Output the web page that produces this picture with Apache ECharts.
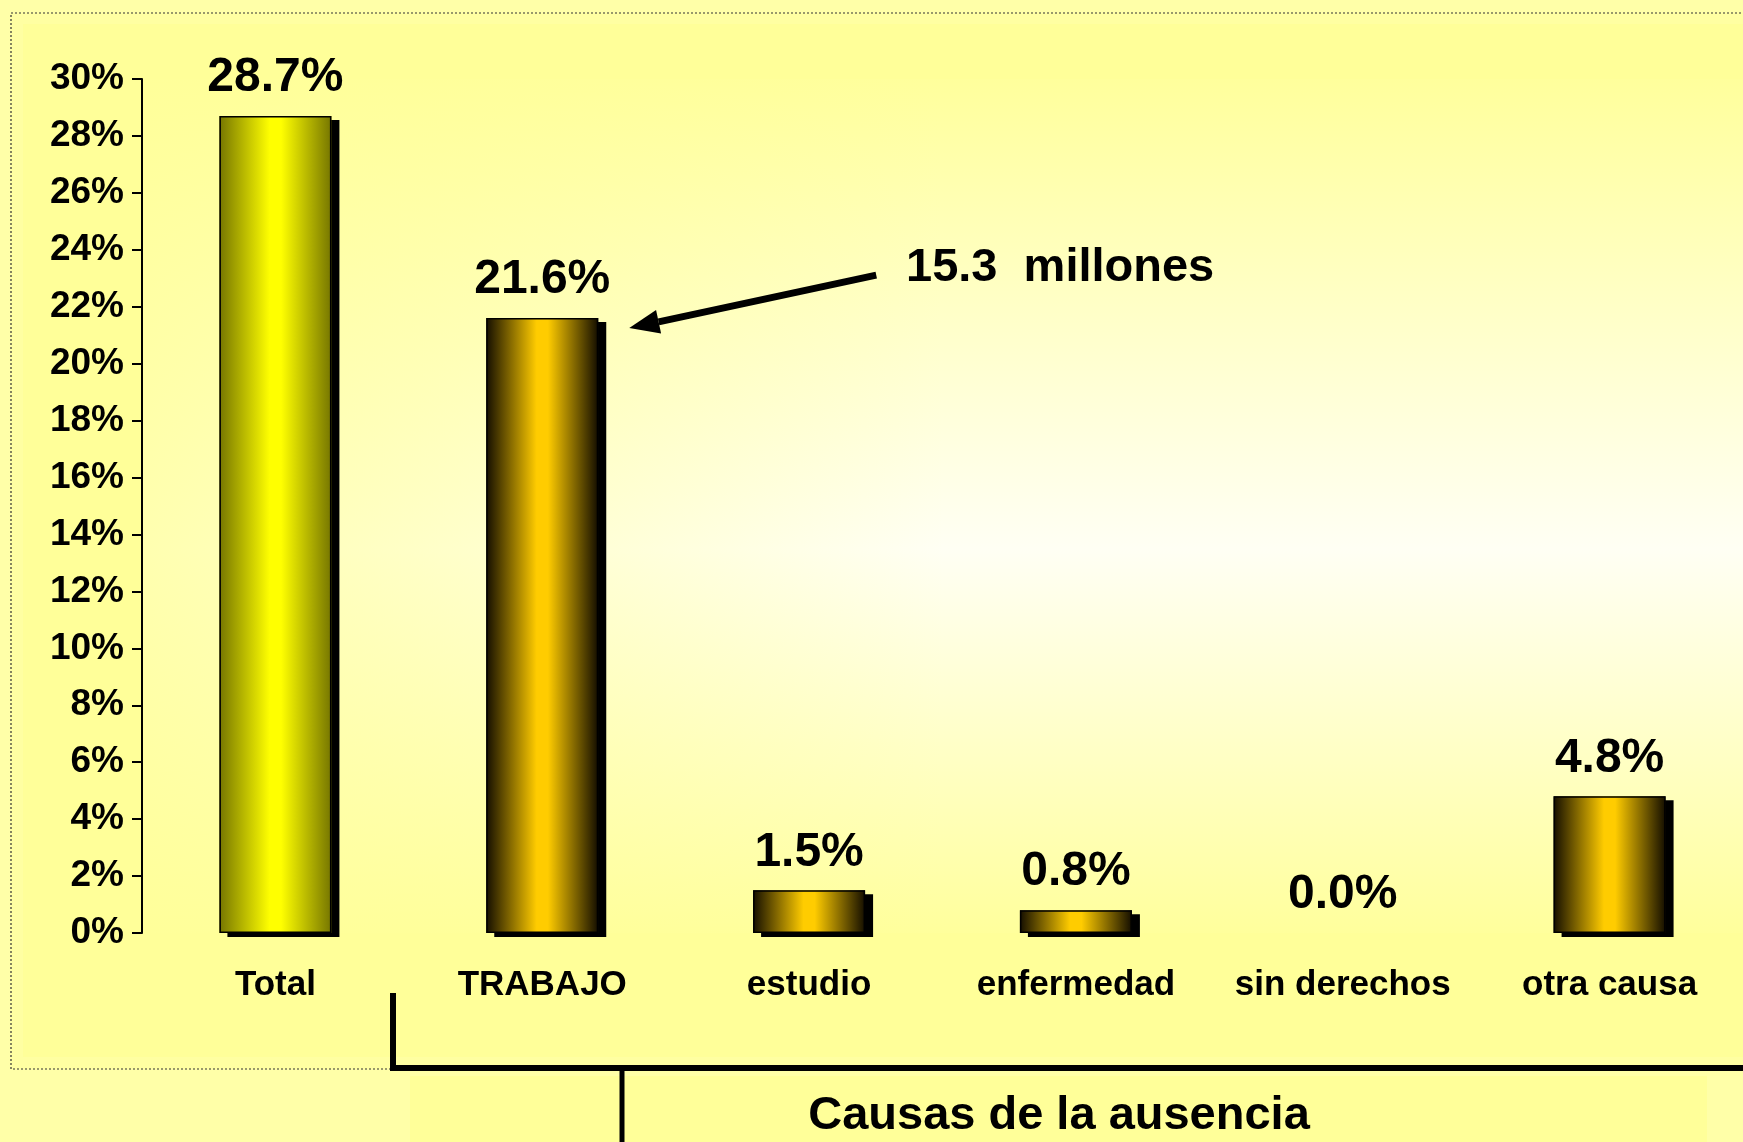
<!DOCTYPE html>
<html>
<head>
<meta charset="utf-8">
<script src="https://cdn.jsdelivr.net/npm/echarts@6/dist/echarts.min.js"></script>
<style>
  html, body { margin: 0; padding: 0; background: #ffffa8; }
  #chart { width: 1743px; height: 1142px; }
</style>
</head>
<body>
<div id="chart"></div>
<script>
var categories = ['Total', 'TRABAJO', 'estudio', 'enfermedad', 'sin derechos', 'otra causa'];
var values = [28.7, 21.6, 1.5, 0.8, 0.0, 4.8];
var yTicks = { min: 0, max: 30, interval: 2 };
var noteText = '15.3  millones';
var groupTitle = 'Causas de la ausencia';

var font = "'Liberation Sans', Arial, sans-serif";

function barGradient(edge, mid) {
  return new echarts.graphic.LinearGradient(0, 0, 1, 0, [
    { offset: 0, color: edge },
    { offset: 0.45, color: mid },
    { offset: 0.55, color: mid },
    { offset: 1, color: edge }
  ]);
}

var chart = echarts.init(document.getElementById('chart'));

var fillData = values.map(function (v, i) {
  return {
    value: v,
    itemStyle: { color: i === 0 ? barGradient('#767600', '#ffff00') : barGradient('#140e00', '#ffcc00') }
  };
});
// outline layer: no outline where the bar has no height
var outlineData = values.map(function (v) { return v > 0 ? v : '-'; });

var option = {
  animation: false,
  backgroundColor: 'transparent',
  grid: {
    left: 142, right: 0, top: 79, bottom: 209,
    show: true,
    borderWidth: 0,
    backgroundColor: new echarts.graphic.LinearGradient(0, 0, 0, 1, [
      { offset: 0, color: '#ffff9c' },
      { offset: 0.55, color: '#fffff4' },
      { offset: 1, color: '#ffff9c' }
    ])
  },
  xAxis: {
    type: 'category',
    data: categories,
    axisLine: { show: false },
    axisTick: { show: false },
    axisLabel: {
      color: '#000', fontFamily: font, fontWeight: 'bold', fontSize: 35,
      margin: 35, interval: 0
    }
  },
  yAxis: {
    type: 'value',
    min: yTicks.min, max: yTicks.max, interval: yTicks.interval,
    splitLine: { show: false },
    axisLine: { show: true, lineStyle: { color: '#000', width: 2 } },
    axisTick: { show: true, length: 10, lineStyle: { color: '#000', width: 2 } },
    axisLabel: {
      color: '#000', fontFamily: font, fontWeight: 'bold', fontSize: 37,
      margin: 18, formatter: '{value}%'
    }
  },
  series: [{
    type: 'bar',
    data: fillData,
    barWidth: 112,
    itemStyle: {
      borderWidth: 0,
      shadowColor: '#000',
      shadowBlur: 0,
      shadowOffsetX: 8,
      shadowOffsetY: 4
    },
    label: {
      show: true,
      position: 'top',
      distance: 14,
      color: '#000',
      fontFamily: font,
      fontWeight: 'bold',
      fontSize: 48,
      formatter: function (p) { return p.value.toFixed(1) + '%'; }
    }
  }, {
    type: 'bar',
    data: outlineData,
    barWidth: 112,
    barGap: '-100%',
    silent: true,
    z: 3,
    itemStyle: { color: 'transparent', borderColor: '#000', borderWidth: 1.5 }
  }]
};

chart.setOption(option);

// annotation arrow pointing to the TRABAJO bar top
var top1 = chart.convertToPixel({ gridIndex: 0 }, [1, values[1]]);
var tip = [top1[0] + 87, top1[1] + 10];
var tail = [top1[0] + 334, top1[1] - 43];
var ang = Math.atan2(tip[1] - tail[1], tip[0] - tail[0]);
var hl = 30, hw = 12;
var bx = tip[0] - hl * Math.cos(ang), by = tip[1] - hl * Math.sin(ang);
var px = -Math.sin(ang), py = Math.cos(ang);

chart.setOption({
  graphic: [
    { type: 'rect', z: -10, silent: true,
      shape: { x: 11, y: 13, width: 1800, height: 1056 },
      style: { fill: '#ffffa2', stroke: '#333', lineWidth: 1.2, lineDash: [2, 2] } },
    { type: 'rect', z: -9, silent: true,
      shape: { x: 23, y: 24, width: 1800, height: 1033 },
      style: { fill: '#ffff99' } },
    { type: 'rect', z: -9, silent: true,
      shape: { x: 410, y: 1076, width: 1297, height: 80 },
      style: { fill: '#ffff99' } },
    { type: 'rect', z: 1, silent: true,
      shape: { x: 143, y: 79, width: 800, height: 854 },
      style: { fill: new echarts.graphic.LinearGradient(0, 0, 1, 0, [
        { offset: 0, color: 'rgba(255,255,153,0.75)' },
        { offset: 1, color: 'rgba(255,255,153,0)' }
      ]) } },
    { type: 'line', z: 10, silent: true,
      shape: { x1: tail[0], y1: tail[1], x2: bx, y2: by },
      style: { stroke: '#000', lineWidth: 7 } },
    { type: 'polygon', z: 10, silent: true,
      shape: { points: [tip, [bx + px * hw, by + py * hw], [bx - px * hw, by - py * hw]] },
      style: { fill: '#000' } },
    { type: 'text', z: 10, silent: true, x: 906, y: 268,
      style: { text: noteText, fill: '#000', font: 'bold 47px ' + font,
        textAlign: 'left', textVerticalAlign: 'middle' } },
    { type: 'polyline', z: 10, silent: true,
      shape: { points: [[393, 993], [393, 1068], [1760, 1068]] },
      style: { stroke: '#000', lineWidth: 6, fill: null } },
    { type: 'line', z: 10, silent: true,
      shape: { x1: 622, y1: 1068, x2: 622, y2: 1150 },
      style: { stroke: '#000', lineWidth: 5 } },
    { type: 'text', z: 10, silent: true, x: 1059, y: 1116,
      style: { text: groupTitle, fill: '#000', font: 'bold 47px ' + font,
        textAlign: 'center', textVerticalAlign: 'middle' } }
  ]
});
</script>
</body>
</html>
